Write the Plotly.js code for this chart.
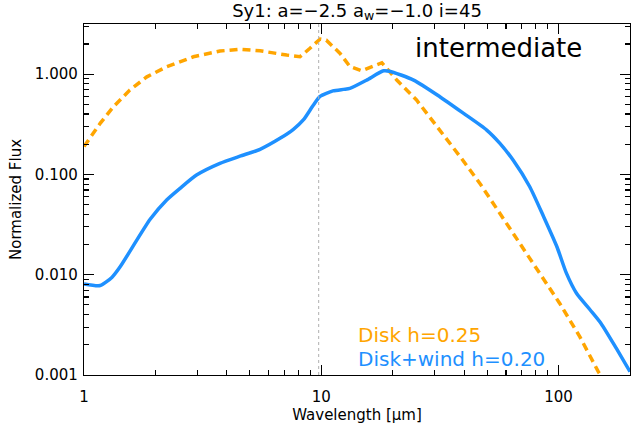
<!DOCTYPE html>
<html><head><meta charset="utf-8">
<script src="https://cdn.plot.ly/plotly-3.0.1.min.js"></script>
<style>body{margin:0;background:#fff}#c{width:640px;height:434px}</style>
</head><body><div id="c"></div>
<script>
const diskX = [1.0, 1.17, 1.33, 1.56, 1.84, 2.23, 2.89, 3.74, 4.54, 5.52, 7.15, 8.13, 8.96, 9.88, 10.5, 11.2, 12.0, 13.2, 14.8, 18.0, 20.8, 25.2, 31.6, 38.5, 46.6, 56.6, 68.8, 83.5, 101, 123, 147, 160];
const diskY = [0.19, 0.323, 0.473, 0.694, 0.94, 1.186, 1.49, 1.70, 1.77, 1.71, 1.55, 1.49, 1.81, 2.24, 2.18, 1.88, 1.61, 1.19, 1.08, 1.30, 0.873, 0.552, 0.277, 0.150, 0.0814, 0.0409, 0.0206, 0.0103, 0.0052, 0.0024, 0.00108, 0.0008];
const windX = [1.0, 1.17, 1.31, 1.42, 1.90, 2.23, 2.54, 2.98, 3.74, 4.54, 5.52, 6.7, 7.63, 8.4, 9.25, 9.88, 11.2, 12.4, 13.2, 15.5, 18.3, 19.4, 24.5, 31.6, 39.8, 49.8, 56.6, 64.3, 75.6, 86.5, 98.4, 108, 119, 136, 151, 175, 200];
const windY = [0.0081, 0.0078, 0.0094, 0.012, 0.0357, 0.0556, 0.0727, 0.0986, 0.129, 0.152, 0.178, 0.229, 0.282, 0.349, 0.49, 0.60, 0.68, 0.705, 0.72, 0.87, 1.08, 1.07, 0.873, 0.596, 0.406, 0.277, 0.204, 0.139, 0.0754, 0.0379, 0.019, 0.0103, 0.00653, 0.00445, 0.00327, 0.00185, 0.00108];
const yTickFormat = '.3f';
const xTickFormat = 'd';
const minorMult = [2, 3, 4, 5, 6, 7, 8, 9];
const xDecades = [1, 10, 100];
const yDecades = [0.001, 0.01, 0.1, 1];
const markX = 9.75;

function minorTicks(decades) {
  const out = [];
  decades.forEach(d => minorMult.forEach(m => out.push(m * d)));
  return out;
}

const font = 'DejaVu Sans, Verdana, sans-serif';
const traces = [
  {x: diskX, y: diskY, mode: 'lines', line: {color: '#FFA500', width: 3.5, dash: '8px,5px'}, hoverinfo: 'skip'},
  {x: windX, y: windY, mode: 'lines', line: {color: '#1E90FF', width: 3.5, shape: 'spline', smoothing: 0.6}, hoverinfo: 'skip'},
  {x: [], y: [], xaxis: 'x2', yaxis: 'y2', mode: 'lines', hoverinfo: 'skip'}
];
const xRange = [0, Math.log10(200)];
const yRange = [-3, 0.5];
function axisCommon() {
  return {
    type: 'log', showgrid: false, zeroline: false, showline: true, linecolor: '#000', linewidth: 1.2,
    mirror: 'ticks', ticks: 'inside', ticklen: 10, tickwidth: 1.2, tickcolor: '#000',
    tickmode: 'linear', tick0: 0, dtick: 1,
    tickfont: {family: font, size: 15, color: '#000'}
  };
}
function minorAxis(vals, range, overlay) {
  return {
    type: 'log', range: range, overlaying: overlay, showgrid: false, zeroline: false, showline: false,
    mirror: 'ticks', ticks: 'inside', ticklen: 5, tickwidth: 1.2, tickcolor: '#000',
    tickmode: 'array', tickvals: vals, showticklabels: false, fixedrange: true
  };
}
const layout = {
  width: 640, height: 434,
  margin: {l: 84, r: 10, t: 24, b: 59},
  paper_bgcolor: '#fff', plot_bgcolor: '#fff',
  showlegend: false,
  title: {text: 'Sy1: a=\u22122.5 a<sub>w</sub>=\u22121.0 i=45', font: {family: font, size: 18, color: '#000'}, xref: 'paper', x: 0.5, xanchor: 'center', yref: 'container', y: 0.976, yanchor: 'middle'},
  xaxis: Object.assign(axisCommon(), {range: xRange, tickformat: xTickFormat,
    ticklabelstandoff: 8,
    title: {text: 'Wavelength [\u03bcm]', font: {family: font, size: 15, color: '#000'}, standoff: 4}}),
  yaxis: Object.assign(axisCommon(), {range: yRange, tickformat: yTickFormat,
    ticklabelstandoff: 2,
    title: {text: 'Normalized Flux', font: {family: font, size: 15, color: '#000'}, standoff: 9}}),
  xaxis2: Object.assign(minorAxis(minorTicks(xDecades), xRange, 'x'), {side: 'bottom', anchor: 'y2'}),
  yaxis2: Object.assign(minorAxis(minorTicks(yDecades), yRange, 'y'), {side: 'left', anchor: 'x2'}),
  shapes: [
    {type: 'line', xref: 'x', yref: 'paper', x0: markX, x1: markX, y0: 0, y1: 1, line: {color: '#b0b0b0', width: 1, dash: 'dot'}}
  ],
  annotations: [
    {text: 'intermediate', xref: 'paper', yref: 'paper', x: 0.916, y: 0.932, xanchor: 'right', yanchor: 'middle', showarrow: false, font: {family: font, size: 26, color: '#000'}},
    {text: 'Disk h=0.25', xref: 'paper', yref: 'paper', x: 0.498, y: 0.114, xanchor: 'left', yanchor: 'middle', showarrow: false, font: {family: font, size: 20, color: '#FFA500'}},
    {text: 'Disk+wind h=0.20', xref: 'paper', yref: 'paper', x: 0.498, y: 0.046, xanchor: 'left', yanchor: 'middle', showarrow: false, font: {family: font, size: 20, color: '#1E90FF'}}
  ]
};
Plotly.newPlot('c', traces, layout, {staticPlot: true});
</script></body></html>
